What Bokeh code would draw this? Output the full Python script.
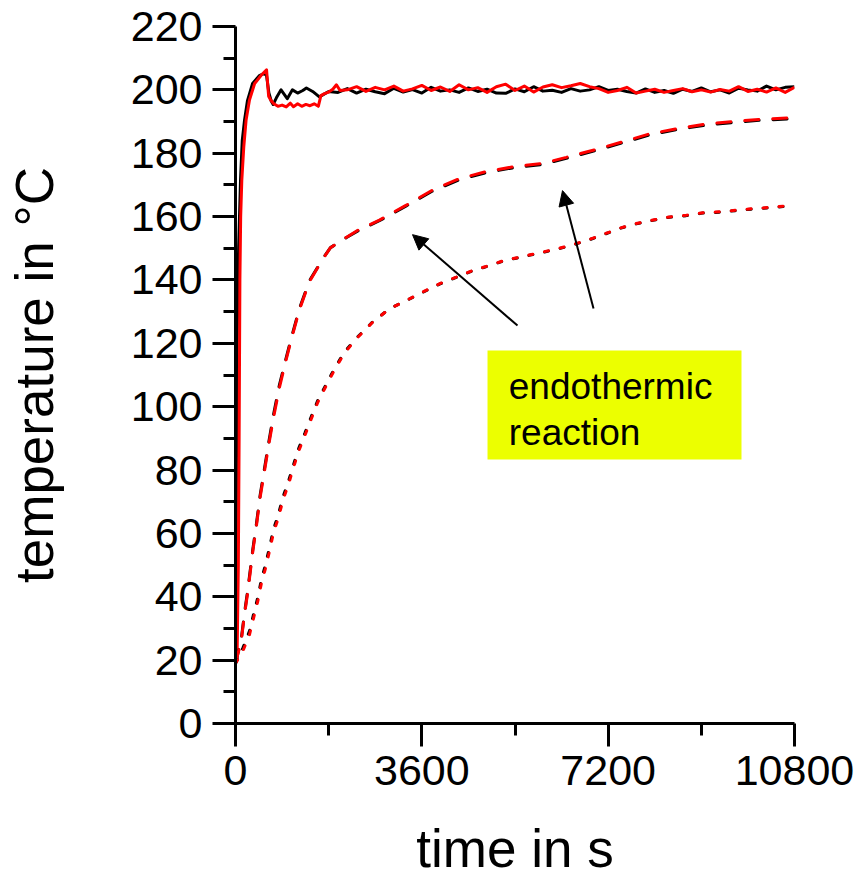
import math
from bokeh.plotting import figure
from bokeh.models import (Range1d, FixedTicker, Label, Arrow, NormalHead, BoxAnnotation)
from bokeh.embed import file_html
from bokeh.resources import INLINE

# ---------------- data ----------------
x_ticks = [0, 3600, 7200, 10800]
x_minor = [1800, 5400, 9000]
y_ticks = [0, 20, 40, 60, 80, 100, 120, 140, 160, 180, 200, 220]
y_minor = [10, 30, 50, 70, 90, 110, 130, 150, 170, 190, 210]

# oven / set temperature, black solid
black_solid_t = [0, 10, 20, 30, 60, 97, 130, 175, 230, 330, 460, 560, 600, 645, 690,
                 728, 790, 880, 1000, 1100, 1200, 1300, 1370, 1490, 1620] + list(range(1800, 10801, 180))
black_solid_T = [19, 40, 90, 120, 150, 171.5, 184, 190.5, 196.5, 202, 204.5, 205.2, 204.5, 199, 196.5,
                 195.4, 197.5, 200, 197.2, 200, 199, 199.8, 200.6, 199.5, 197.8,
                 199.5, 199.2, 200.4, 199.0, 200.2, 199.4, 198.8, 200.5, 199.3, 200.1,
                 199.0, 200.8, 199.6, 200.0, 199.2, 200.6, 199.5, 200.2, 199.0, 198.9,
                 200.3, 199.4, 201.0, 199.6, 199.9, 199.2, 200.4, 199.6, 200.0, 201.0,
                 199.8, 200.2, 199.5, 199.0, 200.3, 199.2, 199.8, 198.9, 200.2, 199.5,
                 200.6, 199.4, 200.0, 199.0, 200.5, 200.0, 199.6, 201.2, 200.0, 200.8,
                 201.0]

# red solid
red_solid_t = [0, 30, 55, 70, 85, 100, 122, 160, 205, 270, 370, 500, 600, 640, 680,
               740, 820, 900, 980, 1060, 1120, 1200, 1280, 1360, 1440, 1520, 1600, 1650,
               1720, 1800, 1880, 1950, 2020] + list(range(2160, 10801, 180))
red_solid_T = [19, 20, 50, 90, 140, 160, 171.5, 182, 190.5, 196.8, 202, 204.7, 206.3, 198, 196.8,
               195.6, 194.8, 195.2, 194.6, 195.8, 194.7, 195.6, 194.8, 195.4, 195.0, 195.6, 194.8, 198.2,
               198.8, 199.3, 200.2, 201.6, 199.8,
               200.0, 201.0, 199.5, 200.8, 200.0, 201.2, 199.6, 200.3, 201.4, 199.8,
               200.9, 199.5, 201.6, 200.0, 200.7, 199.2, 201.0, 201.8, 199.8, 201.2,
               199.3, 200.9, 201.6, 200.7, 201.3, 202.0, 201.0, 200.4, 199.2, 199.8,
               200.8, 199.0, 199.6, 200.2, 199.2, 199.8, 200.4, 199.4, 200.0, 199.3,
               200.1, 199.6, 201.0, 199.5, 200.2, 199.3, 200.6, 199.2, 200.8]

# dashed curves
dashed_t = [0, 110, 175, 240, 335, 400, 475, 560, 645, 735, 850, 965, 1075, 1235, 1430,
            1690, 1835, 2145, 2365, 2780, 3300, 3810, 4330, 4845, 5360, 5940, 6390, 6970,
            7480, 8000, 8580, 9095, 9610, 10125, 10800]
black_dashed_T = [19, 26.5, 35, 42.5, 55, 62.5, 72, 80.5, 89, 97.5, 107, 114.5, 121.5, 131, 139.8,
                  146.8, 150.2, 153.4, 155.5, 158.7, 163.4, 168.1, 171.7, 173.9, 175.4, 176.5, 178.4,
                  180.9, 183.3, 185.8, 187.6, 188.9, 189.7, 190.4, 190.9]
red_dashed_T = [19, 26, 34.5, 41.8, 54.4, 61.8, 71.3, 79.7, 88.2, 96.6, 106.1, 114, 121, 130.6, 139.5,
                146.7, 150.2, 153.5, 155.7, 158.9, 163.6, 168.4, 172, 174.2, 175.7, 176.8, 178.7,
                181.2, 183.6, 186.1, 187.9, 189.2, 190, 190.7, 191.2]

# dotted curves
dotted_t = [0, 141, 270, 348, 431, 497, 580, 657, 734, 831, 914, 1024, 1121, 1223, 1339,
            1463, 1590, 1752, 1913, 2106, 2363, 2653, 2975, 3298, 3619, 3941, 4264, 4585,
            4907, 5197, 5520, 5840, 6163, 6466, 6787, 7110, 7432, 7741, 8062, 8385, 8707,
            9028, 9351, 9674, 9995, 10317, 10607, 10800]
black_dotted_T = [19, 23.8, 29.2, 34.4, 39.8, 45.2, 50.2, 55.6, 61.3, 66.1, 71.3, 76.5, 81.7, 86.9,
                  91.6, 96.8, 102, 107.1, 112, 117.3, 122.1, 126.8, 130.9, 133.5, 136.1, 138.7,
                  140.8, 142.9, 144.5, 146.1, 147.2, 148.4, 149.5, 150.8, 152.4, 154.3, 156.3,
                  157.7, 158.8, 159.8, 160.3, 161.1, 161.4, 161.9, 162.4, 162.8, 163.2, 163.4]
red_dotted_T = [19, 22.8, 28, 33.2, 38.6, 44, 49, 54.4, 60.2, 65, 70.3, 75.5, 80.8, 86.1, 90.8,
                96.1, 101.4, 106.6, 111.6, 117, 121.9, 126.7, 130.9, 133.5, 136.2, 138.8, 140.9,
                143, 144.6, 146.2, 147.3, 148.5, 149.6, 150.9, 152.5, 154.4, 156.4, 157.8, 158.9,
                159.9, 160.4, 161.2, 161.5, 162, 162.5, 162.9, 163.3, 163.5]

x_title = "time in s"
y_title = "temperature in °C"
note_lines = ["endothermic", "reaction"]

# ---------------- figure ----------------
FONT = "Liberation Sans"
p = figure(width=855, height=881, x_range=Range1d(0, 10800), y_range=Range1d(0, 220),
           output_backend="svg", toolbar_location=None,
           min_border_left=235, min_border_right=61, min_border_top=26, min_border_bottom=158)
p.outline_line_color = None
p.xgrid.visible = False
p.ygrid.visible = False
p.background_fill_color = "white"
p.border_fill_color = "white"

p.xaxis.ticker = FixedTicker(ticks=x_ticks, minor_ticks=x_minor)
p.yaxis.ticker = FixedTicker(ticks=y_ticks, minor_ticks=y_minor)
for ax in (p.xaxis, p.yaxis):
    ax.axis_line_width = 3
    ax.axis_line_color = "black"
    ax.major_tick_line_width = 3
    ax.minor_tick_line_width = 3
    ax.major_tick_line_color = "black"
    ax.minor_tick_line_color = "black"
    ax.major_tick_in = 0
    ax.minor_tick_in = 0
    ax.major_tick_out = 23
    ax.minor_tick_out = 12
    ax.major_label_text_font = FONT
    ax.major_label_text_font_size = "43px"
    ax.major_label_text_color = "black"
    ax.axis_label_text_font = FONT
    ax.axis_label_text_font_size = "53px"
    ax.axis_label_text_font_style = "normal"
    ax.axis_label_text_color = "black"
p.xaxis.major_label_standoff = 9
p.yaxis.major_label_standoff = 10
p.xaxis.axis_label = x_title
p.yaxis.axis_label = y_title
p.xaxis.axis_label_standoff = 31
p.yaxis.axis_label_standoff = 64

# ---------------- curves ----------------
p.line(black_solid_t, black_solid_T, line_color="black", line_width=3, line_join="round")
p.line(red_solid_t, red_solid_T, line_color="red", line_width=3, line_join="round")
p.line(dashed_t, black_dashed_T, line_color="black", line_width=3, line_dash="14 14", line_cap="round")
p.line(dashed_t, red_dashed_T, line_color="red", line_width=3, line_dash="14 14", line_cap="round")
p.line(dotted_t, black_dotted_T, line_color="black", line_width=3, line_dash="4 12", line_cap="round")
p.line(dotted_t, red_dotted_T, line_color="red", line_width=3, line_dash="4 12", line_cap="round")

# ---------------- annotations ----------------
p.add_layout(BoxAnnotation(left=4869, right=9776, bottom=83.3, top=117.7,
                           fill_color="#ecff00", fill_alpha=1.0, line_color=None))
p.add_layout(Label(x=5280, y=106.3, text=note_lines[0], text_font=FONT, text_font_size="37px",
                   text_color="black", text_baseline="alphabetic", text_align="left"))
p.add_layout(Label(x=5280, y=92.0, text=note_lines[1], text_font=FONT, text_font_size="37px",
                   text_color="black", text_baseline="alphabetic", text_align="left"))

p.add_layout(Arrow(end=NormalHead(size=15, fill_color="black", line_color="black"),
                   x_start=5448, y_start=125.6, x_end=3420, y_end=154.3,
                   line_color="black", line_width=2))
p.add_layout(Arrow(end=NormalHead(size=15, fill_color="black", line_color="black"),
                   x_start=6917, y_start=131.0, x_end=6318, y_end=168.2,
                   line_color="black", line_width=2))

open("out.html", "w").write(file_html(p, INLINE))
